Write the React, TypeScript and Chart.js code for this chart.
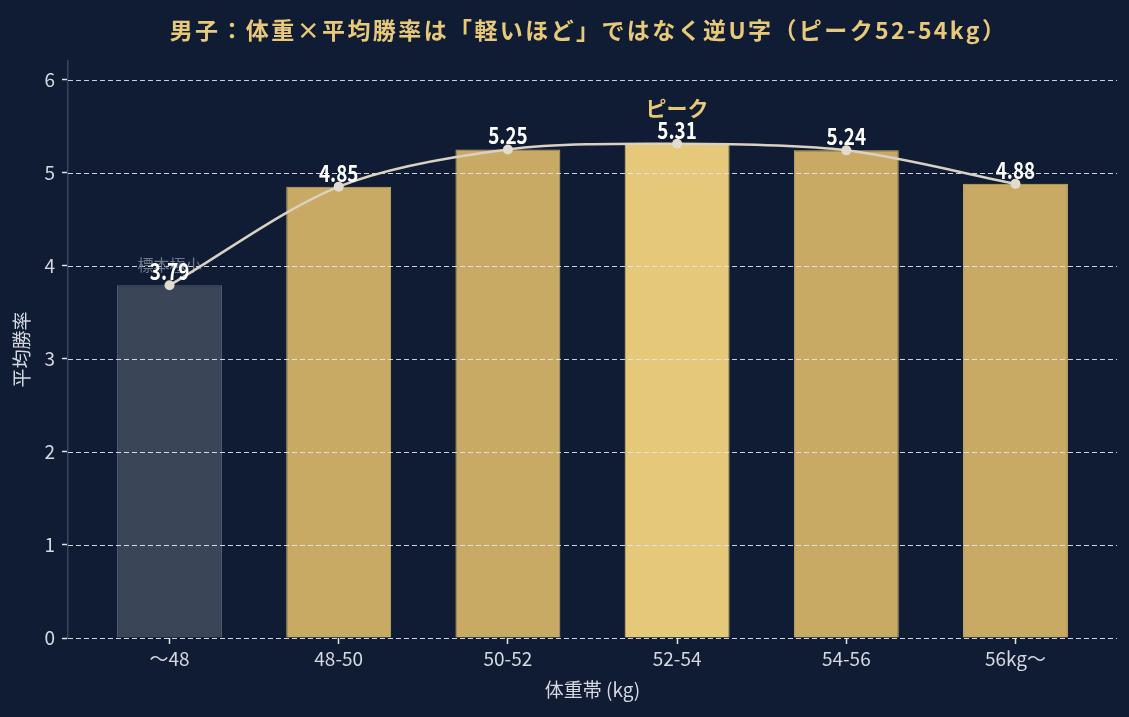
import React, { useEffect, useRef } from "react";
import { Chart, registerables } from "chart.js";

Chart.register(...registerables);

// Weight bands (kg) and the mean win rate of each band
const categories = ["〜48", "48-50", "50-52", "52-54", "54-56", "56kg〜"];
const winRates = [3.79, 4.85, 5.25, 5.31, 5.24, 4.88];
const yTicks = [0, 1, 2, 3, 4, 5, 6];

const titleText = "男子：体重×平均勝率は「軽いほど」ではなく逆U字（ピーク52-54kg）";
const xTitle = "体重帯 (kg)";
const yTitle = "平均勝率";
const peakNote = "ピーク";
const smallSampleNote = "標本極小";
const smallSampleIndex = 0;

const FONT = '"Noto Sans CJK JP", "Noto Sans", sans-serif';
const BG = "#0f1c33";
const GOLD = "#c8aa64";
const GOLD_PEAK = "#e5c87a";
const MUTED = "#3a4557";
const TEXT = "#d4d8df";
const TITLE_GOLD = "#e8c97a";
const LINE = "#d9d1c4";

// draws text squeezed horizontally (narrow label face)
function narrowText(ctx: CanvasRenderingContext2D, text: string, x: number, y: number, sx: number) {
  ctx.save();
  ctx.translate(x, y);
  ctx.scale(sx, 1);
  ctx.fillText(text, 0, 0);
  ctx.restore();
}

export default function App() {
  const canvasRef = useRef<HTMLCanvasElement | null>(null);

  useEffect(() => {
    document.body.style.margin = "0";
    document.body.style.background = BG;
    const canvas = canvasRef.current;
    if (!canvas) return;

    const peakIndex = winRates.indexOf(Math.max(...winRates));
    const points = winRates.map((v, i) => ({ x: i, y: v }));
    const barFill = winRates.map((_, i) =>
      i === smallSampleIndex ? MUTED : i === peakIndex ? GOLD_PEAK : GOLD
    );
    const barBorder = winRates.map((_, i) =>
      i === smallSampleIndex ? "#56627a" : i === peakIndex ? "#e9cd84" : "#cdb06c"
    );

    const overlay = {
      id: "overlay",
      beforeDraw(chart: any) {
        const ctx = chart.ctx;
        ctx.save();
        ctx.fillStyle = BG;
        ctx.fillRect(0, 0, chart.width, chart.height);
        ctx.restore();
      },
      afterDatasetDraw(chart: any, args: any) {
        if (args.index !== 0) return;
        const ctx = chart.ctx;
        const { left, right } = chart.chartArea;
        const yScale = chart.scales.y;
        ctx.save();
        ctx.strokeStyle = "rgba(225,230,240,0.9)";
        ctx.lineWidth = 1;
        ctx.setLineDash([5, 3]);
        yTicks.forEach((t) => {
          const y = Math.round(yScale.getPixelForValue(t)) + 0.5;
          ctx.beginPath();
          ctx.moveTo(left, y);
          ctx.lineTo(right, y);
          ctx.stroke();
        });
        ctx.setLineDash([]);
        // note above the low-sample bar
        const xs = chart.scales.x;
        const px = xs.getPixelForValue(smallSampleIndex);
        const py = yScale.getPixelForValue(winRates[smallSampleIndex]);
        ctx.font = `16px ${FONT}`;
        ctx.fillStyle = "#6e788a";
        ctx.textAlign = "center";
        ctx.textBaseline = "alphabetic";
        ctx.fillText(smallSampleNote, px, py - 14);
        ctx.restore();
      },
      afterDatasetsDraw(chart: any) {
        const ctx = chart.ctx;
        const xs = chart.scales.x;
        const ys = chart.scales.y;
        const { left, right, top, bottom } = chart.chartArea;
        ctx.save();
        ctx.textAlign = "center";
        ctx.textBaseline = "alphabetic";
        winRates.forEach((v, i) => {
          const px = xs.getPixelForValue(i);
          const py = ys.getPixelForValue(v);
          ctx.font = `bold 23px ${FONT}`;
          ctx.fillStyle = "#ffffff";
          narrowText(ctx, v.toFixed(2), px, py - 5, 0.82);
          if (i === peakIndex) {
            ctx.font = `bold 21px ${FONT}`;
            ctx.fillStyle = TITLE_GOLD;
            ctx.fillText(peakNote, px, py - 28);
          }
        });

        // title
        ctx.font = `bold 23px ${FONT}`;
        ctx.fillStyle = TITLE_GOLD;
        ctx.textBaseline = "middle";
        (ctx as any).letterSpacing = "2.4px";
        ctx.fillText(titleText, (left + right) / 2 - 4, 30);
        (ctx as any).letterSpacing = "0px";

        // axis titles
        ctx.font = `19px ${FONT}`;
        ctx.fillStyle = TEXT;
        ctx.fillText(xTitle, (left + right) / 2, 690);
        ctx.translate(22, (top + bottom) / 2);
        ctx.rotate(-Math.PI / 2);
        ctx.fillText(yTitle, 0, 0);
        ctx.restore();
      },
    };

    const chart = new Chart(canvas, {
      type: "bar",
      data: {
        datasets: [
          {
            type: "bar",
            data: points,
            backgroundColor: barFill,
            borderColor: barBorder,
            borderWidth: 1,
            barPercentage: 0.62,
            categoryPercentage: 1,
            order: 1,
          },
          {
            type: "line",
            data: points,
            borderColor: LINE,
            borderWidth: 2.5,
            tension: 0.3,
            pointRadius: 5,
            pointBackgroundColor: "#e2dbd0",
            pointBorderColor: "#e2dbd0",
            pointBorderWidth: 0,
            order: 0,
          } as any,
        ],
      },
      options: {
        animation: false,
        responsive: false,
        maintainAspectRatio: false,
        layout: { padding: { top: 61, right: 12, left: 0, bottom: 0 } },
        plugins: {
          legend: { display: false },
          tooltip: { enabled: false },
          title: { display: false },
        },
        scales: {
          x: {
            type: "linear",
            offset: false,
            min: -0.6,
            max: 5.6,
            afterBuildTicks: (scale: any) => {
              scale.ticks = categories.map((_, i) => ({ value: i }));
            },
            afterFit: (scale: any) => {
              scale.height = 79;
            },
            ticks: {
              color: TEXT,
              font: { family: FONT, size: 19 },
              padding: 3,
              autoSkip: false,
              maxRotation: 0,
              callback: (v: any) => categories[Math.round(Number(v))] ?? "",
            },
            grid: {
              offset: false,
              drawOnChartArea: false,
              drawTicks: true,
              tickLength: 6,
              tickColor: "#e0e3e8",
              tickWidth: 1.5,
            },
            border: { display: false },
          },
          y: {
            type: "linear",
            min: 0,
            max: 6.2,
            afterBuildTicks: (scale: any) => {
              scale.ticks = yTicks.map((v) => ({ value: v }));
            },
            afterFit: (scale: any) => {
              scale.width = 68;
            },
            ticks: {
              color: TEXT,
              font: { family: FONT, size: 19 },
              padding: 7,
            },
            grid: {
              drawOnChartArea: false,
              drawTicks: true,
              tickLength: 6,
              tickColor: "#e0e3e8",
              tickWidth: 1.5,
            },
            border: { display: true, color: "#3a4558", width: 1.5 },
          },
        },
      },
      plugins: [overlay],
    });

    return () => chart.destroy();
  }, []);

  return (
    <div style={{ width: 1129, height: 717, background: BG }}>
      <canvas ref={canvasRef} width={1129} height={717} style={{ display: "block" }} />
    </div>
  );
}
